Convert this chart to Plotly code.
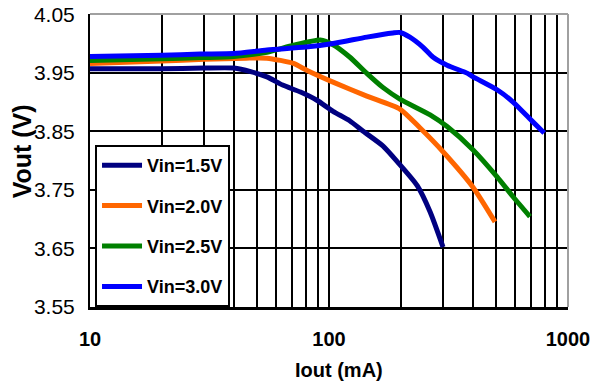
import plotly.graph_objects as go

# Iout (mA) / Vout (V) for each input voltage
names = ["Vin=1.5V", "Vin=2.0V", "Vin=2.5V", "Vin=3.0V"]
colors = ["#000080", "#FF6600", "#008000", "#0000FF"]

x_15 = [10, 20, 30, 40, 47, 55, 64, 76, 89, 104, 122, 139, 168, 193, 234, 265, 300]
y_15 = [3.957, 3.957, 3.958, 3.958, 3.952, 3.943, 3.929, 3.917, 3.903, 3.884, 3.868, 3.850,
        3.825, 3.798, 3.757, 3.712, 3.652]

x_20 = [10, 20, 30, 45, 55, 71, 81, 104, 144, 198, 240, 300, 401, 495]
y_20 = [3.966, 3.970, 3.973, 3.975, 3.975, 3.966, 3.954, 3.934, 3.910, 3.888, 3.856, 3.815,
        3.754, 3.695]

x_25 = [10, 20, 30, 40, 55, 71, 92, 104, 122, 144, 168, 198, 265, 312, 401, 505, 589, 693]
y_25 = [3.971, 3.974, 3.976, 3.978, 3.985, 3.997, 4.006, 3.998, 3.977, 3.949, 3.925, 3.905,
        3.878, 3.858, 3.818, 3.772, 3.738, 3.704]

x_30 = [10, 20, 29, 40, 55, 80, 104, 144, 185, 198, 218, 247, 272, 312, 380, 401, 505, 589,
        713, 795]
y_30 = [3.978, 3.980, 3.982, 3.983, 3.989, 3.994, 4.000, 4.011, 4.018, 4.019, 4.011, 3.994,
        3.977, 3.963, 3.949, 3.943, 3.921, 3.900, 3.866, 3.847]

xs = [x_15, x_20, x_25, x_30]
ys = [y_15, y_20, y_25, y_30]

y_ticks = [3.55, 3.65, 3.75, 3.85, 3.95, 4.05]
x_grid = [10, 20, 30, 40, 50, 60, 70, 80, 90, 100, 200, 300, 400, 500, 600, 700, 800, 900, 1000]
x_labels = {10: "10", 100: "100", 1000: "1000"}

FONT = "Liberation Sans, Arial, sans-serif"

fig = go.Figure()
for n, c, x, y in zip(names, colors, xs, ys):
    fig.add_trace(go.Scatter(
        x=x, y=y, name=n, mode="lines", legendgroup=n,
        line=dict(color=c, width=5, shape="spline", smoothing=0.6),
    ))

fig.update_layout(
    width=601, height=387,
    margin=dict(l=90, r=33, t=14, b=80),
    paper_bgcolor="white", plot_bgcolor="white",
    showlegend=True,
    legend=dict(
        x=0.0105, xanchor="left", y=0, yanchor="bottom",
        bgcolor="white", bordercolor="black", borderwidth=2,
        font=dict(family=FONT, size=18, color="black", weight="bold"),
        tracegroupgap=14, itemwidth=40,
    ),
    xaxis=dict(
        type="log", range=[1, 3], automargin=False,
        tickvals=x_grid, ticktext=[x_labels.get(v, "") for v in x_grid],
        showgrid=True, gridcolor="black", gridwidth=2,
        showline=True, linecolor="black", linewidth=3,
        ticks="", ticklabelstandoff=12,
        tickfont=dict(family=FONT, size=20, color="black", weight="bold"),
        zeroline=False,
    ),
    yaxis=dict(
        range=[3.5495, 4.0505], automargin=False,
        tickvals=y_ticks, ticktext=["%.2f" % v for v in y_ticks],
        showgrid=True, gridcolor="black", gridwidth=2,
        showline=True, linecolor="black", linewidth=2,
        ticks="", ticklabelstandoff=9,
        tickfont=dict(family=FONT, size=21, color="black"),
        zeroline=False,
    ),
    shapes=[
        dict(type="line", xref="paper", yref="paper", x0=0, x1=1, y0=1, y1=1,
             line=dict(color="#A0A0A0", width=2), layer="above"),
        dict(type="line", xref="paper", yref="paper", x0=1, x1=1, y0=0, y1=1,
             line=dict(color="#A0A0A0", width=2), layer="above"),
    ],
    annotations=[
        dict(text="<b>Iout (mA)</b>", xref="paper", yref="paper", x=0.52, y=-0.215,
             xanchor="center", yanchor="middle", showarrow=False,
             font=dict(family=FONT, size=20, color="black")),
        dict(text="<b>Vout (V)</b>", xref="paper", yref="paper", x=-0.143, y=0.53,
             xanchor="center", yanchor="middle", showarrow=False, textangle=-90,
             font=dict(family=FONT, size=25, color="black")),
    ],
)

fig.write_html("out.html")
